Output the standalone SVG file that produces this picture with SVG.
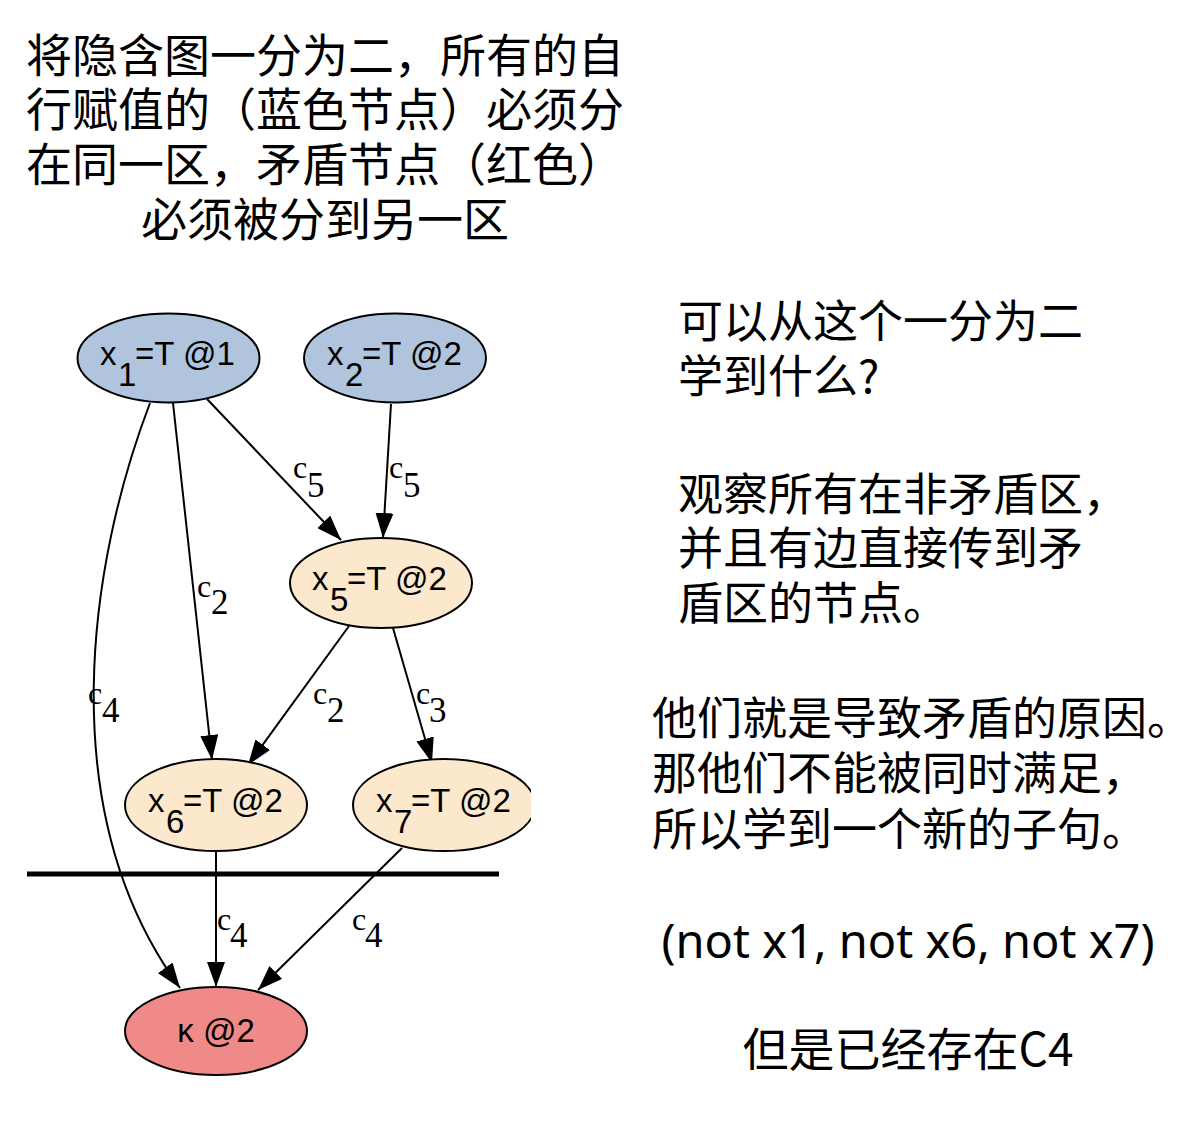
<svg xmlns="http://www.w3.org/2000/svg" width="1193" height="1132" viewBox="0 0 1193 1132">
<defs>
<style>
.blue{fill:#b0c4de;stroke:#000;stroke-width:2}
.beige{fill:#fbe8cd;stroke:#000;stroke-width:2}
.red{fill:#f08a88;stroke:#000;stroke-width:2}
.nl{font-family:"Liberation Sans",Arial,sans-serif;font-size:33px;fill:#000}
.el{font-family:"Liberation Serif","Times New Roman",serif;font-size:32px;fill:#000}
.es{font-family:"Liberation Serif","Times New Roman",serif;font-size:35px;fill:#000}
.edge{fill:none;stroke:#000;stroke-width:2}
.cjk{font-family:"Noto Sans CJK SC","Noto Sans",sans-serif;font-size:45px;fill:#000}
.ttl{font-size:46px}
.lat{font-family:"Noto Sans","Noto Sans CJK SC",sans-serif;font-size:47px}
</style>
<marker id="arr" viewBox="0 0 25 18" refX="25" refY="9" markerWidth="25" markerHeight="18" markerUnits="userSpaceOnUse" orient="auto">
<path d="M0,0 L25,9 L0,18 z" fill="#000"/>
</marker>
<clipPath id="cut"><rect x="0" y="0" width="531" height="1132"/></clipPath>
</defs>
<rect width="1193" height="1132" fill="#fff"/>

<g id="title" class="cjk" text-anchor="middle">
<text class="ttl" x="325" y="72">将隐含图一分为二，所有的自</text>
<text class="ttl" x="325" y="126">行赋值的（蓝色节点）必须分</text>
<text class="ttl" x="325" y="181">在同一区，矛盾节点（红色）</text>
<text class="ttl" x="325" y="236">必须被分到另一区</text>
</g>

<g id="connectors">
<path class="edge" marker-end="url(#arr)" d="M150,403 C90,560 50,810 180,988"/>
<path class="edge" marker-end="url(#arr)" d="M173,403 L212,760"/>
<path class="edge" marker-end="url(#arr)" d="M207,399 L341,540"/>
<path class="edge" marker-end="url(#arr)" d="M391,404 L383,538"/>
<path class="edge" marker-end="url(#arr)" d="M349,626 L248,765"/>
<path class="edge" marker-end="url(#arr)" d="M393,628 L432,763"/>
<path class="edge" marker-end="url(#arr)" d="M216,851 L216,987"/>
<path class="edge" marker-end="url(#arr)" d="M402,848 L258,990"/>
<text class="el" x="293" y="478">c</text><text class="es" x="307" y="497">5</text>
<text class="el" x="389" y="478">c</text><text class="es" x="403" y="497">5</text>
<text class="el" x="197" y="597">c</text><text class="es" x="211" y="614">2</text>
<text class="el" x="88" y="704">c</text><text class="es" x="102" y="722">4</text>
<text class="el" x="313" y="704">c</text><text class="es" x="327" y="722">2</text>
<text class="el" x="416" y="704">c</text><text class="es" x="429" y="722">3</text>
<text class="el" x="217" y="930">c</text><text class="es" x="230" y="947">4</text>
<text class="el" x="352" y="930">c</text><text class="es" x="365" y="947">4</text>
</g>

<line id="cutline" x1="27" y1="874" x2="499" y2="874" stroke="#000" stroke-width="5"/>

<g id="n_x1">
<ellipse class="blue" cx="168.5" cy="358" rx="91" ry="44.5"/>
<text class="nl" x="100" y="365">x</text><text class="nl" x="118" y="386">1</text><text class="nl" x="135" y="365">=T @1</text>
</g>
<g id="n_x2">
<ellipse class="blue" cx="395" cy="358" rx="91" ry="44.5"/>
<text class="nl" x="327" y="365">x</text><text class="nl" x="345" y="386">2</text><text class="nl" x="362" y="365">=T @2</text>
</g>
<g id="n_x5">
<ellipse class="beige" cx="381" cy="583" rx="91" ry="45"/>
<text class="nl" x="312" y="590">x</text><text class="nl" x="330" y="611">5</text><text class="nl" x="347" y="590">=T @2</text>
</g>
<g id="n_x6">
<ellipse class="beige" cx="216" cy="805" rx="91" ry="46"/>
<text class="nl" x="148" y="812">x</text><text class="nl" x="166" y="833">6</text><text class="nl" x="183" y="812">=T @2</text>
</g>
<g id="n_x7" clip-path="url(#cut)">
<ellipse class="beige" cx="444" cy="805" rx="91" ry="46"/>
<text class="nl" x="376" y="812">x</text><text class="nl" x="394" y="833">7</text><text class="nl" x="411" y="812">=T @2</text>
</g>
<g id="n_kappa">
<ellipse class="red" cx="216" cy="1031" rx="91" ry="44"/>
<text class="nl" x="216" y="1042" text-anchor="middle">κ @2</text>
</g>

<g id="notes" class="cjk">
<text x="678" y="338">可以从这个一分为二</text>
<text x="678" y="393">学到什么?</text>
<text x="678" y="511">观察所有在非矛盾区，</text>
<text x="678" y="565">并且有边直接传到矛</text>
<text x="678" y="620">盾区的节点。</text>
<text x="652" y="735">他们就是导致矛盾的原因。</text>
<text x="652" y="790">那他们不能被同时满足，</text>
<text x="652" y="846">所以学到一个新的子句。</text>
<text class="lat" x="908" y="958" text-anchor="middle">(not x1, not x6, not x7)</text>
<text x="908" y="1066" text-anchor="middle" style="font-size:46px">但是已经存在C4</text>
</g>
</svg>
